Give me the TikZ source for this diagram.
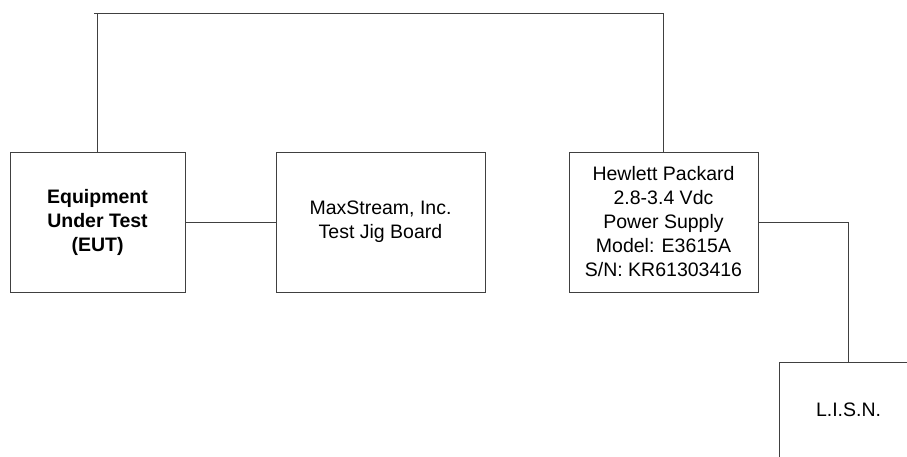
\documentclass[tikz,border=0pt]{standalone}
\usepackage{fontspec}
\setmainfont{Liberation Sans}
\begin{document}
\begin{tikzpicture}
    [
    x=1pt,y=-1pt,
    unit/.style={rectangle,draw=black!75,line width=0.8pt,align=center,inner sep=0pt,
      font=\fontsize{19.5}{24}\selectfont,minimum height=140pt},
    wire/.style={draw=black!75,line width=0.8pt}
    ]
    \useasboundingbox (0,0) rectangle (907,456);
    \node (eut) at (97.5,222) [unit, minimum width=175pt, font=\fontsize{19.5}{24}\selectfont\bfseries] {Equipment\\Under Test\\(EUT)};
    \node (jig) at (380.5,222) [unit, minimum width=209pt] {MaxStream, Inc.\\Test Jig Board};
    \node (psu) at (663.5,222) [unit, minimum width=189pt] {Hewlett Packard\\2.8-3.4 Vdc\\Power Supply\\Model: E3615A\\S/N: KR61303416};
    \node (lisn) at (848.5,410) [unit, minimum width=139pt, minimum height=96pt] {L.I.S.N.};
    \coordinate (top) at (94,13);
    \draw [wire] (eut.north) -- (eut.north |- top);
    \draw [wire] (top) -| (psu.north);
    \draw [wire] (eut) -- (jig);
    \draw [wire] (psu.east) -| (lisn.north);
  \end{tikzpicture}
\end{document}
